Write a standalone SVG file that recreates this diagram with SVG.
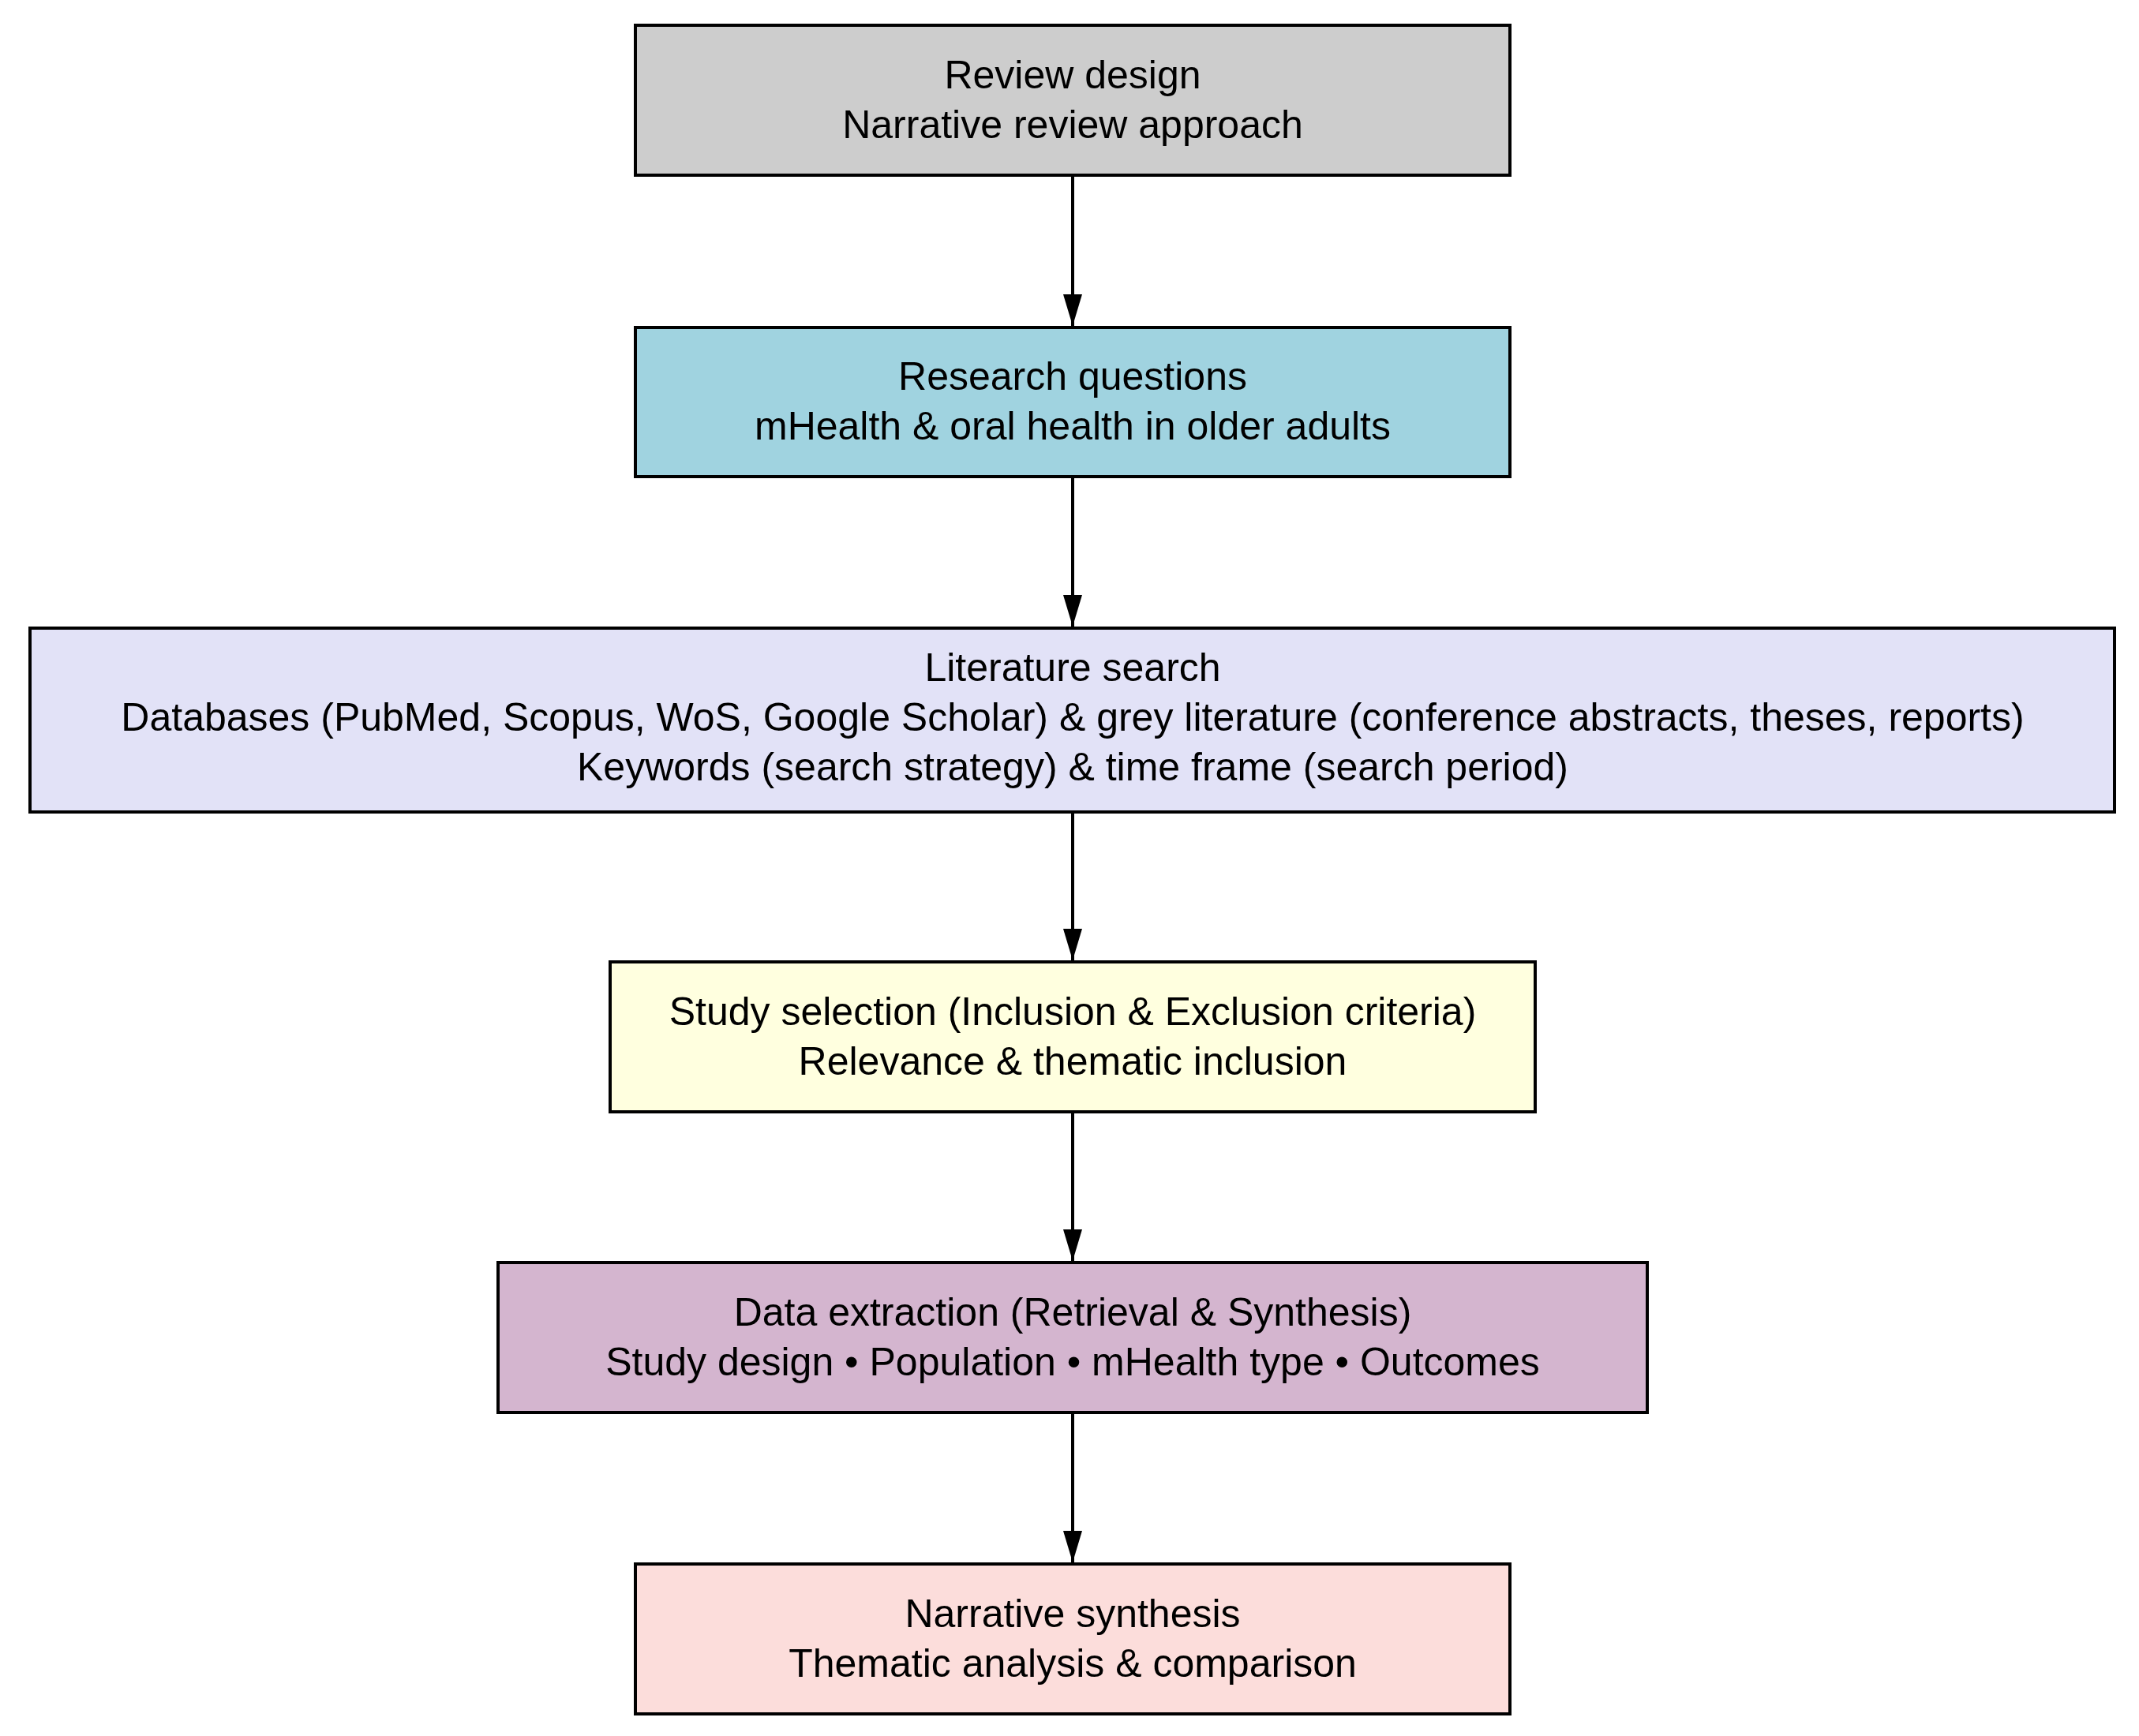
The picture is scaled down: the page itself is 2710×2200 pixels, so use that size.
<svg xmlns="http://www.w3.org/2000/svg" width="2710" height="2200" viewBox="0 0 2710 2200">
<style>
.n{stroke:#000;stroke-width:4}
text{font-family:"Liberation Sans",Arial,sans-serif;font-size:50px;text-anchor:middle;fill:#000}
.e{stroke:#000;stroke-width:4;fill:none}
</style>
<defs><marker id="a" markerUnits="userSpaceOnUse" markerWidth="40" markerHeight="64" refX="60" refY="18" viewBox="0 0 60 36" orient="auto"><path d="M0,0L60,18L0,36Z" fill="#000"/></marker></defs>
<rect width="2710" height="2200" fill="#fff"/>
<g id="n1"><rect class="n" x="805" y="32" width="1108" height="190" fill="#cdcdcd"/><text x="1359" y="112">Review design</text><text x="1359" y="175">Narrative review approach</text></g>
<g id="n2"><rect class="n" x="805" y="415" width="1108" height="189" fill="#a0d3e0"/><text x="1359" y="494">Research questions</text><text x="1359" y="557">mHealth &amp; oral health in older adults</text></g>
<g id="n3"><rect class="n" x="38" y="796" width="2641" height="233" fill="#e2e2f7"/><text x="1359" y="863">Literature search</text><text x="1359" y="926">Databases (PubMed, Scopus, WoS, Google Scholar) &amp; grey literature (conference abstracts, theses, reports)</text><text x="1359" y="989">Keywords (search strategy) &amp; time frame (search period)</text></g>
<g id="n4"><rect class="n" x="773" y="1219" width="1172" height="190" fill="#ffffdf"/><text x="1359" y="1299">Study selection (Inclusion &amp; Exclusion criteria)</text><text x="1359" y="1362">Relevance &amp; thematic inclusion</text></g>
<g id="n5"><rect class="n" x="631" y="1600" width="1456" height="190" fill="#d4b5cf"/><text x="1359" y="1680">Data extraction (Retrieval &amp; Synthesis)</text><text x="1359" y="1743">Study design • Population • mHealth type • Outcomes</text></g>
<g id="n6"><rect class="n" x="805" y="1982" width="1108" height="190" fill="#fcdddb"/><text x="1359" y="2062">Narrative synthesis</text><text x="1359" y="2125">Thematic analysis &amp; comparison</text></g>
<g id="edges">
<path class="e" d="M1359,222V413" marker-end="url(#a)"/>
<path class="e" d="M1359,604V794" marker-end="url(#a)"/>
<path class="e" d="M1359,1029V1217" marker-end="url(#a)"/>
<path class="e" d="M1359,1409V1598" marker-end="url(#a)"/>
<path class="e" d="M1359,1790V1980" marker-end="url(#a)"/>
</g>
</svg>
